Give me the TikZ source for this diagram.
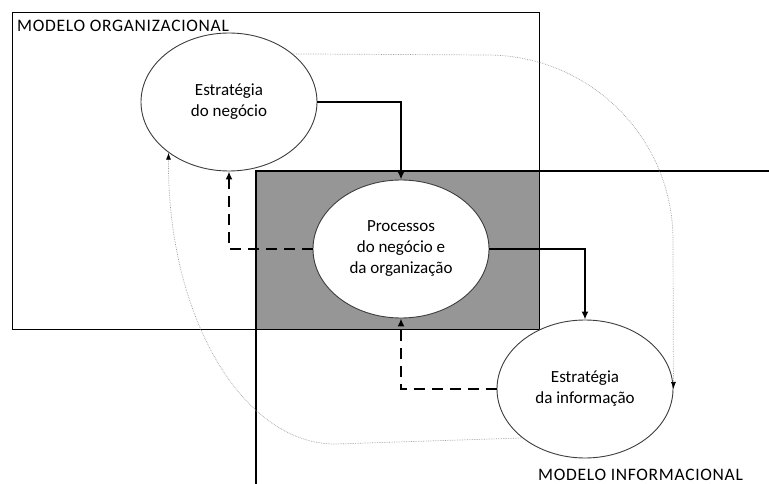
\documentclass[tikz,border=0pt]{standalone}
\usepackage{fontspec}
\setmainfont{Carlito}
\usepackage{tikz}
\usetikzlibrary{shapes,arrows.meta}
\definecolor{areagray}{RGB}{150,150,150}
\definecolor{linkgray}{RGB}{160,160,160}
\definecolor{rimgray}{RGB}{60,60,60}

\begin{document}
\begin{tikzpicture}[
    x=1pt, y=-1pt,
    oval/.style={ellipse, draw=rimgray, fill=white, line width=0.9pt, align=center, minimum width=176pt, minimum height=138pt, inner sep=0pt, font=\fontsize{17}{21}\selectfont},
    tag/.style={anchor=base west, inner sep=0pt, font=\fontsize{17.5}{19}\selectfont\addfontfeature{LetterSpace=4}},
    frame/.style={draw, line width=1pt},
    arrow/.style={-{Latex[length=8pt,width=7pt]}, line width=1.8pt},
    back/.style={arrow, dash pattern=on 11pt off 7pt},
    link/.style={-{Latex[length=7pt,width=5pt,color=black]}, draw=linkgray, line width=0.7pt, densely dotted}
]
    \useasboundingbox (0,0) rectangle (769,484);
    \fill[areagray] (256,171) rectangle (539,329);
    \draw[frame] (12,13) rectangle (539,329);
    \draw[frame, line width=1.3pt] (769,171) -- (256,171) -- (256,484);

    \node[tag] (org) at (17,32) {MODELO ORGANIZACIONAL};
    \node[tag] (inf) at (538,480) {MODELO INFORMACIONAL};

    \node[oval] (strat) at (229,102) {Estratégia\\do negócio};
    \node[oval] (proc) at (401,249) {Processos\\do negócio e\\da organização};
    \node[oval] (info) at (585,389) {Estratégia\\da informação};

    \draw[arrow] (strat.east) -| (proc.north);
    \draw[arrow] (proc.east) -| (info.north);
    \draw[back] (proc.west) -| (strat.south);
    \draw[back] (info.west) -| (proc.south);
    \draw[link] (strat.37) -- (487,55) .. controls (590,55) and (673,138) .. (673,240) -- (info.east);
    \draw[link] (info.218) -- (335,444) .. controls (242,444) and (167,315) .. (strat.220);
\end{tikzpicture}
\end{document}
